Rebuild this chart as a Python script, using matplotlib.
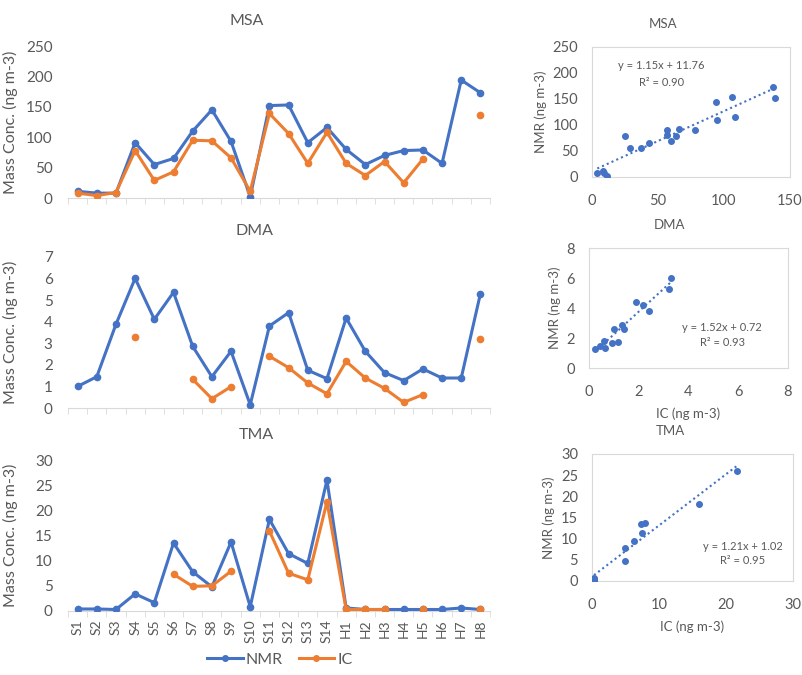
import numpy as np
import matplotlib
matplotlib.use("Agg")
import matplotlib.pyplot as plt
from matplotlib.lines import Line2D

plt.rcParams['font.family'] = ['Lato', 'DejaVu Sans']

nan = np.nan
samples = ["S1", "S2", "S3", "S4", "S5", "S6", "S7", "S8", "S9", "S10", "S11",
           "S12", "S13", "S14", "H1", "H2", "H3", "H4", "H5", "H6", "H7", "H8"]

msa_nmr = [11, 8, 8, 91, 55, 65, 110, 145, 93, 2, 152, 153, 91, 116, 80, 55, 70, 78, 79, 57, 194, 173]
msa_ic = [8, 4, 9, 78, 29, 43, 95, 94, 66, 11, 139, 106, 57, 108, 57, 37, 60, 25, 64, nan, nan, 137]

dma_nmr = [1.0, 1.45, 3.88, 6.01, 4.11, 5.36, 2.86, 1.45, 2.63, 0.15, 3.80, 4.42, 1.75, 1.36,
           4.17, 2.63, 1.64, 1.27, 1.81, 1.39, 1.39, 5.30]
dma_ic = [nan, nan, nan, 3.29, nan, nan, 1.33, 0.43, 0.99, nan, 2.40, 1.87, 1.16, 0.66,
          2.16, 1.39, 0.91, 0.26, 0.62, nan, nan, 3.21]

tma_nmr = [0.4, 0.4, 0.3, 3.4, 1.65, 13.5, 7.8, 4.8, 13.7, 0.86, 18.2, 11.4, 9.45, 26.0,
           0.6, 0.3, 0.3, 0.3, 0.3, 0.3, 0.6, 0.3]
tma_ic = [nan, nan, nan, nan, nan, 7.3, 4.9, 5.0, 7.9, nan, 15.9, 7.5, 6.2, 21.7,
          0.3, 0.3, 0.3, nan, 0.3, nan, nan, 0.3]

# regression results shown on the scatter panels
fits = {"MSA": (1.15, 11.76, 0.90), "DMA": (1.52, 0.72, 0.93), "TMA": (1.21, 1.02, 0.95)}

blue = "#4472C4"
orange = "#ED7D31"
gray = "#595959"

W, H = 803, 675
fig = plt.figure(figsize=(W / 100, H / 100), dpi=100)

def box(l, t, r, b):
    return [l / W, 1 - b / H, (r - l) / W, (b - t) / H]

# left line panels: (name, data, ymax, step, pixel box, title pos)
left = [
    ("MSA", msa_nmr, msa_ic, 250, 50, (68, 46, 490, 198), (247, 21)),
    ("DMA", dma_nmr, dma_ic, 7, 1, (68, 257, 490, 408), (255, 231)),
    ("TMA", tma_nmr, tma_ic, 30, 5, (68, 460, 490, 611), (256, 435)),
]
x = np.arange(len(samples))
for i, (name, nmr, ic, ymax, step, pb, tp) in enumerate(left):
    ax = fig.add_axes(box(*pb))
    ax.plot(x, nmr, color=blue, lw=2.2, marker="o", ms=4.5)
    ax.plot(x, ic, color=orange, lw=2.2, marker="o", ms=4.5)
    ax.set_xlim(-0.5, len(samples) - 0.5)
    ax.set_ylim(0, ymax)
    ax.set_yticks(np.arange(0, ymax + step / 2, step))
    for s in ["top", "right", "left"]:
        ax.spines[s].set_visible(False)
    ax.spines["bottom"].set_color("#D9D9D9")
    ax.spines["bottom"].set_zorder(0)
    ax.set_xticks(x)
    ax.set_xticks(np.arange(-0.5, len(samples)), minor=True)
    ax.tick_params(axis="x", which="major", length=0, pad=6)
    ax.tick_params(axis="x", which="minor", length=4, color="#D9D9D9")
    ax.tick_params(axis="y", length=0, pad=11, labelsize=11, labelcolor=gray)
    if i == 2:
        ax.set_xticklabels(samples, rotation=90, fontsize=10, color=gray)
    else:
        ax.set_xticklabels([])
    ax.set_ylabel("Mass Conc. (ng m-3)", fontsize=11.5, color=gray)
    ax.yaxis.set_label_coords(-0.118, 0.5)
    fig.text(tp[0] / W, 1 - tp[1] / H, name, ha="center", va="center",
             fontsize=11.5, color=gray)

handles = [Line2D([], [], color=blue, lw=2.2, marker="o", ms=4),
           Line2D([], [], color=orange, lw=2.2, marker="o", ms=4)]
fig.legend(handles, ["NMR", "IC"], loc="center", bbox_to_anchor=(280 / W, 1 - 660 / H),
           ncol=2, frameon=False, fontsize=11.5, handlelength=2.2, handletextpad=0.2,
           columnspacing=1.0, labelcolor=gray)

# right scatter panels
right = [
    ("MSA", msa_ic, msa_nmr, 150, 50, 250, 50, (592, 47, 790, 177), (663, 24),
     (0.35, 0.86, 0.73), False),
    ("DMA", dma_ic, dma_nmr, 8, 2, 8, 2, (589, 248, 788, 368), (670, 225),
     (0.67, 0.34, 0.21), True),
    ("TMA", tma_ic, tma_nmr, 30, 10, 30, 5, (592, 454, 793, 581), (670, 431),
     (0.75, 0.27, 0.16), True),
]
for name, ic, nmr, xmax, xstep, ymax, ystep, pb, tp, tpos, xlab in right:
    ax = fig.add_axes(box(*pb))
    ic = np.array(ic, dtype=float)
    nmr = np.array(nmr, dtype=float)
    ok = ~np.isnan(ic) & ~np.isnan(nmr)
    ax.scatter(ic[ok], nmr[ok], s=16, color=blue, zorder=3)
    m, c, r2 = fits[name]
    xs = np.array([ic[ok].min(), ic[ok].max()])
    ax.plot(xs, m * xs + c, color=blue, lw=1.5, ls=(0, (1, 1.5)))
    ax.set_xlim(0, xmax)
    ax.set_ylim(0, ymax)
    ax.set_xticks(np.arange(0, xmax + xstep / 2, xstep))
    ax.set_yticks(np.arange(0, ymax + ystep / 2, ystep))
    for s in ax.spines.values():
        s.set_color("#D9D9D9")
    ax.tick_params(length=0, labelsize=10.5, labelcolor=gray)
    ax.tick_params(axis="y", pad=10)
    ax.tick_params(axis="x", pad=12)
    ax.set_ylabel("NMR (ng m-3)", fontsize=9.5, color=gray, labelpad=4)
    if xlab:
        ax.set_xlabel("IC (ng m-3)", fontsize=9.5, color=gray, labelpad=6)
    ax.text(tpos[0], tpos[1], f"y = {m:.2f}x + {c:.2f}", transform=ax.transAxes,
            ha="center", va="center", fontsize=8, color=gray)
    ax.text(tpos[0], tpos[2], f"R\u00b2 = {r2:.2f}", transform=ax.transAxes,
            ha="center", va="center", fontsize=8, color=gray)
    fig.text(tp[0] / W, 1 - tp[1] / H, name, ha="center", va="center",
             fontsize=9.5, color=gray)

fig.savefig("out.png", dpi=100)
